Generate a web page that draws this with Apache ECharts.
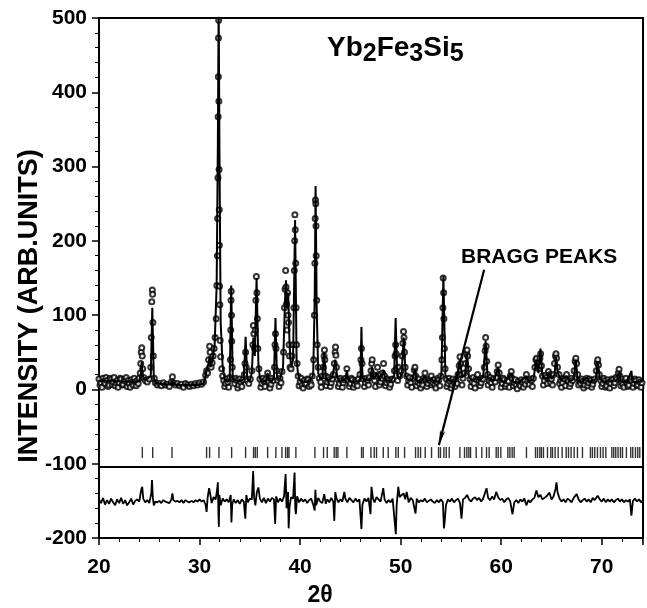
<!DOCTYPE html>
<html>
<head>
<meta charset="utf-8">
<script src="https://cdn.jsdelivr.net/npm/echarts@6/dist/echarts.min.js"></script>
<style>
  html, body { margin: 0; padding: 0; background: #fff; }
  #chart { width: 647px; height: 608px; }
</style>
</head>
<body>
<div id="chart"></div>
<script>
// axis ticks
var xTicks = [20, 30, 40, 50, 60, 70];
var yTicks = [-200, -100, 0, 100, 200, 300, 400, 500];
var xEnd = 74.1;

// calculated profile (2theta, intensity)
var calc = [
  [20,11],[20.4,12],[20.8,11],[21.2,12],[21.6,11],[22,11],[22.4,10],[22.8,11],[23.2,10],[23.6,10],[24.0,11],
  [24.15,20],[24.25,37],[24.35,18],[24.5,14],[24.7,13],[25.15,18],[25.3,110],[25.45,16],[25.6,9],[26,8],
  [26.5,7],[27.2,7],[27.3,12],[27.4,7],[28,6],[29,6],[30,6],[30.4,8],[30.6,18],[30.75,30],[30.9,35],
  [31.0,45],[31.1,30],[31.3,40],[31.5,60],[31.7,140],[31.82,330],[31.9,520],[31.98,320],[32.1,90],
  [32.3,30],[32.5,14],[32.8,10],[33.0,14],[33.15,140],[33.3,14],[33.6,12],[34.0,11],[34.4,14],[34.58,71],
  [34.75,14],[35.0,12],[35.2,22],[35.35,70],[35.5,45],[35.67,150],[35.85,35],[36.0,15],[36.3,10],[36.6,12],
  [36.77,22],[36.9,12],[37.2,11],[37.4,16],[37.55,96],[37.7,16],[38.0,14],[38.3,30],[38.5,120],[38.6,147],
  [38.7,110],[38.82,130],[38.95,60],[39.1,30],[39.3,40],[39.5,228],[39.65,40],[39.8,20],[40.0,12],[40.5,10],
  [41.0,11],[41.3,20],[41.45,120],[41.54,274],[41.65,110],[41.8,22],[42.0,14],[42.2,16],[42.4,50],[42.55,16],
  [42.8,12],[43.2,16],[43.5,40],[43.7,16],[44.0,11],[44.5,14],[44.65,26],[44.8,12],[45.3,10],[45.8,11],
  [46.0,15],[46.1,84],[46.2,15],[46.6,12],[47.0,15],[47.15,30],[47.3,14],[47.7,22],[47.9,12],[48.3,26],
  [48.5,12],[49.0,11],[49.35,18],[49.5,96],[49.65,20],[49.9,14],[50.1,22],[50.3,70],[50.5,18],[50.8,12],
  [51.2,14],[51.4,28],[51.6,12],[52.0,10],[52.4,18],[52.6,10],[53.1,15],[53.3,10],[53.8,11],[54.05,20],
  [54.25,153],[54.45,18],[54.8,12],[55.2,10],[55.6,14],[55.9,40],[56.1,16],[56.4,20],[56.6,48],[56.8,16],
  [57.2,12],[57.6,16],[57.8,12],[58.2,16],[58.45,65],[58.65,16],[59.0,14],[59.3,12],[59.7,30],[59.9,12],
  [60.4,10],[61.0,22],[61.2,10],[61.8,9],[62.5,18],[62.7,10],[63.2,14],[63.5,40],[63.7,22],[63.9,55],
  [64.1,18],[64.5,14],[64.8,22],[65.0,14],[65.3,20],[65.45,44],[65.6,25],[65.9,12],[66.5,18],[66.8,10],
  [67.2,14],[67.42,40],[67.6,12],[68.0,10],[68.5,16],[68.8,10],[69.4,14],[69.6,38],[69.8,14],[70.3,10],
  [71.0,12],[71.5,12],[71.72,25],[71.9,11],[72.5,10],[72.95,25],[73.05,10],[73.6,10],[74.1,11]
];

// observed points (2theta, intensity)
var observed = [
  [20.0,14],[20.1,6],[20.2,9],[20.3,3],[20.4,15],[20.5,11],[20.6,8],[20.7,16],[20.8,12],[20.9,4],[21.0,6],
  [21.1,15],[21.2,13],[21.3,7],[21.4,10],[21.5,16],[21.6,5],[21.7,9],[21.8,12],[21.9,3],[22.0,9],[22.1,15],
  [22.2,14],[22.3,6],[22.4,7],[22.5,13],[22.6,11],[22.7,16],[22.8,4],[22.9,12],[23.0,8],[23.1,3],[23.2,13],
  [23.3,10],[23.4,6],[23.5,15],[23.6,10],[23.7,5],[23.8,12],[23.9,8],[24.0,15],
  [24.1,22],[24.15,35],[24.2,50],[24.25,56],[24.3,45],[24.35,28],[24.45,16],[24.6,12],[24.8,10],[25.0,14],
  [25.15,30],[25.2,70],[25.25,118],[25.3,134],[25.33,128],[25.36,90],[25.4,45],[25.5,15],[25.6,9],
  [25.8,6],[26.0,8],[26.2,5],[26.4,9],[26.6,6],[26.8,7],[27.0,4],[27.2,10],[27.3,17],[27.4,9],[27.6,6],
  [27.8,8],[28.0,5],[28.2,7],[28.4,3],[28.6,8],[28.8,6],[29.0,4],[29.2,7],[29.4,5],[29.6,8],[29.8,6],
  [30.0,9],[30.2,7],[30.4,10],[30.6,19],[30.7,25],[30.8,22],[30.9,40],[31.0,58],[31.05,50],[31.15,30],
  [31.25,36],[31.35,45],[31.45,55],[31.55,70],[31.65,95],[31.72,140],[31.78,180],[31.8,230],[31.83,285],
  [31.85,367],[31.87,421],[31.88,473],[31.9,497],[31.92,388],[31.94,296],[31.96,242],[31.97,194],
  [31.99,139],[32.02,114],[32.05,66],[32.1,44],[32.2,28],[32.3,18],[32.4,12],[32.5,4],[32.6,8],[32.7,14],
  [32.8,10],[32.9,3],[33.0,16],
  [33.07,40],[33.1,80],[33.13,120],[33.15,132],[33.18,100],[33.2,65],[33.25,30],[33.35,14],[33.5,8],
  [33.6,15],[33.7,12],[33.8,2],[33.9,6],[34.0,14],[34.1,10],[34.2,4],[34.3,13],[34.45,20],[34.52,35],
  [34.58,50],[34.64,30],[34.75,12],[34.9,8],
  [35.05,14],[35.2,25],[35.3,60],[35.35,86],[35.4,75],[35.47,55],[35.55,80],[35.6,120],[35.65,152],
  [35.7,130],[35.75,95],[35.8,55],[35.9,28],[36.0,14],[36.1,3],[36.2,8],[36.3,15],[36.4,11],[36.5,4],
  [36.6,14],[36.77,22],[36.9,10],[37.0,2],[37.1,7],[37.2,15],[37.3,12],[37.45,30],[37.5,60],[37.55,75],
  [37.6,55],[37.67,25],[37.8,12],[37.9,4],[38.0,15],[38.1,9],[38.2,24],
  [38.35,50],[38.45,110],[38.5,135],[38.56,160],[38.6,138],[38.65,115],[38.7,80],[38.75,130],[38.8,100],
  [38.85,90],[38.9,60],[38.95,45],[39.0,30],[39.1,28],[39.2,45],[39.3,60],[39.38,110],[39.42,160],
  [39.46,200],[39.48,235],[39.52,215],[39.56,170],[39.6,110],[39.65,60],[39.7,35],[39.8,18],[39.9,5],
  [40.0,10],[40.1,15],[40.2,6],[40.3,2],[40.4,12],[40.5,7],[40.6,8],[40.7,14],[40.8,13],[40.9,4],[41.0,10],
  [41.1,6],[41.2,18],[41.35,40],[41.42,100],[41.47,170],[41.5,230],
  [41.53,255],[41.56,250],[41.58,220],[41.6,180],[41.65,120],[41.7,60],[41.8,30],[41.9,15],[42.05,10],
  [42.1,3],[42.2,18],[42.32,30],[42.38,45],[42.42,53],[42.46,40],[42.55,18],[42.6,5],[42.7,10],[42.8,16],
  [42.9,13],[43.0,4],[43.1,9],[43.2,14],[43.3,20],
  [43.4,35],[43.48,50],[43.52,57],[43.56,46],[43.62,30],[43.75,14],[43.8,4],[43.9,8],[44.0,15],[44.1,12],
  [44.2,3],[44.3,9],[44.4,13],[44.5,15],[44.65,28],[44.8,12],[44.9,4],[45.0,8],[45.1,15],[45.2,13],[45.3,3],
  [45.4,7],[45.5,12],[45.6,10],[45.7,5],[45.8,14],[45.95,20],[46.05,40],[46.1,55],
  [46.16,35],[46.3,14],[46.4,4],[46.5,9],[46.6,15],[46.7,12],[46.8,6],[46.9,16],[47.05,25],[47.12,35],
  [47.17,40],[47.25,20],[47.4,12],[47.5,4],
  [47.55,18],[47.7,30],[47.8,20],[47.9,6],[48.0,10],[48.1,15],[48.2,22],[48.3,35],[48.4,18],[48.5,5],
  [48.6,9],[48.7,14],[48.8,12],[48.9,3],[49.0,7],[49.1,13],
  [49.2,14],[49.38,25],[49.45,45],[49.5,60],[49.55,48],[49.62,28],[49.7,12],[49.76,30],[49.9,18],[50.05,25],
  [50.15,45],[50.22,62],[50.28,78],[50.33,70],[50.38,50],[50.45,30],[50.6,18],[50.7,6],[50.8,12],[50.9,16],
  [51.0,9],[51.1,3],[51.2,15],
  [51.35,26],[51.42,30],[51.5,18],[51.6,5],[51.7,10],[51.8,14],[51.9,7],[52.0,2],[52.1,11],[52.2,6],
  [52.3,15],[52.42,22],[52.55,12],[52.6,4],[52.7,8],[52.8,14],
  [52.9,12],[53.05,18],[53.1,6],[53.2,9],[53.3,13],[53.4,6],[53.5,2],[53.6,10],[53.7,15],[53.8,13],
  [53.9,5],[54.0,18],[54.1,40],[54.15,70],[54.2,110],
  [54.23,150],[54.27,130],[54.3,95],[54.35,55],[54.42,28],[54.55,14],[54.6,4],[54.7,8],[54.8,15],[54.9,11],
  [55.0,2],[55.1,6],[55.2,14],[55.3,10],[55.4,4],
  [55.5,13],[55.6,8],[55.7,20],[55.82,32],[55.9,44],[55.97,35],[56.05,20],[56.1,6],[56.2,15],[56.35,22],
  [56.45,35],[56.55,48],
  [56.6,53],[56.66,45],[56.75,28],[56.9,14],[57.0,4],[57.1,10],[57.2,16],[57.3,8],[57.4,2],[57.5,14],
  [57.65,20],[57.8,12],[57.9,5],[58.0,9],[58.1,15],
  [58.2,14],[58.32,30],[58.4,52],[58.45,70],[58.5,58],[58.56,38],[58.65,20],[58.7,6],[58.8,12],[58.9,16],
  [59.0,9],[59.1,3],[59.2,14],
  [59.4,10],[59.5,16],[59.6,24],[59.7,33],[59.8,22],[59.95,12],[60.0,3],[60.1,8],[60.2,15],[60.3,13],
  [60.4,4],[60.5,7],[60.6,12],[60.7,11],[60.8,3],[60.9,18],
  [61.0,24],[61.1,15],[61.2,5],[61.3,9],[61.4,13],[61.5,6],[61.6,1],[61.7,11],[61.8,8],[61.9,5],[62.0,13],
  [62.1,10],[62.2,3],[62.3,12],[62.4,7],[62.5,20],[62.65,11],
  [62.8,7],[62.9,14],[63.0,12],[63.1,4],[63.2,15],[63.35,30],[63.45,40],[63.52,42],[63.6,35],[63.75,28],
  [63.85,42],[63.92,48],
  [64.0,32],[64.1,18],[64.2,6],[64.3,12],[64.4,19],[64.5,16],[64.6,8],[64.7,24],[64.85,20],[64.9,9],
  [65.0,14],[65.1,6],[65.2,20],[65.3,35],[65.4,45],
  [65.45,48],[65.5,42],[65.6,30],[65.75,20],[65.8,8],[65.9,12],[66.0,3],[66.1,9],[66.2,15],[66.3,14],
  [66.4,5],[66.5,20],[66.6,13],[66.7,11],[66.8,4],[66.9,8],
  [67.0,15],[67.1,12],[67.25,25],[67.35,38],[67.42,42],[67.5,35],[67.6,20],[67.7,6],[67.75,12],[67.9,8],
  [68.0,14],[68.1,11],[68.2,2],[68.3,6],[68.4,12],
  [68.5,15],[68.6,5],[68.7,9],[68.8,14],[68.9,12],[69.0,3],[69.1,7],[69.2,12],[69.3,14],[69.45,25],
  [69.55,36],[69.6,40],[69.67,33],[69.75,20],
  [69.9,12],[70.0,4],[70.1,8],[70.2,15],[70.3,12],[70.4,3],[70.5,5],[70.6,13],[70.7,10],[70.8,2],[70.9,8],
  [71.0,14],[71.1,13],[71.2,5],[71.3,9],[71.4,16],[71.5,14],[71.65,22],
  [71.72,27],[71.8,18],[71.9,5],[71.95,10],[72.0,14],[72.1,7],[72.2,3],[72.3,12],[72.4,15],[72.5,9],
  [72.6,4],[72.7,6],[72.8,12],[72.9,14],[73.0,11],[73.1,3],[73.2,8],[73.3,14],
  [73.4,12],[73.5,5],[73.6,6],[73.7,13],[73.8,10],[73.9,3],[74.0,9]
];

// observed - calculated (plotted shifted down)
var diffShift = -150;
var diff = [
  [20.0,2],[20.2,-3],[20.4,4],[20.6,-5],[20.8,1],[21.0,-4],[21.2,3],[21.4,-2],[21.6,-6],[21.8,2],[22.0,-3],
  [22.2,4],[22.4,-4],[22.6,1],[22.8,-6],[23.0,-2],[23.2,3],[23.4,-5],[23.6,0],[23.8,2],[24.0,-1],[24.2,15],
  [24.3,19],[24.4,3],[24.6,-2],[24.8,1],[25.0,-3],[25.2,10],[25.27,28],[25.35,5],[25.45,-6],[25.6,-1],
  [25.8,-2],[26.0,0],[26.2,-3],[26.4,1],[26.6,-1],[26.8,-2],[27.0,-3],[27.2,2],[27.3,10],[27.4,1],[27.6,-1],
  [27.8,0],[28.0,-2],[28.2,1],[28.4,-3],[28.6,1],[28.8,-1],[29.0,-2],[29.2,0],[29.4,-2],[29.6,1],[29.8,-1],
  [30.0,2],[30.2,-1],[30.4,1],[30.6,-5],[30.7,-15],[30.8,4],[30.95,17],[31.05,10],[31.2,-3],[31.4,5],
  [31.6,2],[31.75,15],[31.82,25],[31.88,-20],[31.92,-35],[31.97,8],[32.1,-6],[32.3,3],[32.5,-1],[32.7,2],
  [32.9,-2],[33.1,8],[33.17,-29],[33.25,-5],[33.4,2],[33.6,-3],[33.8,1],[34.0,-4],[34.2,2],[34.4,-1],
  [34.55,-24],[34.65,8],[34.8,-2],[35.0,3],[35.2,2],[35.33,40],[35.42,5],[35.55,-6],[35.7,12],[35.85,18],
  [36.0,3],[36.2,-2],[36.4,4],[36.6,-3],[36.8,3],[37.0,-1],[37.2,4],[37.4,2],[37.52,-31],[37.62,6],
  [37.8,-2],[38.0,3],[38.2,-1],[38.4,6],[38.56,36],[38.65,-10],[38.8,12],[38.86,-37],[38.95,-8],[39.1,5],
  [39.3,3],[39.45,38],[39.52,-10],[39.58,-18],[39.7,6],[39.9,-2],[40.1,3],[40.3,-1],[40.5,2],[40.7,-3],
  [40.9,1],[41.1,3],[41.3,-5],[41.45,-13],[41.52,15],[41.6,-6],[41.8,4],[42.0,-1],[42.2,-3],[42.4,9],
  [42.55,-4],[42.7,2],[42.9,-2],[43.1,4],[43.3,-1],[43.4,-27],[43.5,12],[43.6,4],[43.8,-2],[44.0,2],
  [44.2,-1],[44.4,12],[44.5,3],[44.7,-2],[44.9,4],[45.1,1],[45.3,-2],[45.5,3],[45.7,-1],[45.9,2],[46.1,-38],
  [46.2,-5],[46.4,3],[46.6,-1],[46.8,4],[47.0,-18],[47.1,19],[47.25,3],[47.4,-2],[47.6,5],[47.8,2],[48.0,-1],
  [48.27,17],[48.4,2],[48.6,-3],[48.8,1],[49.0,-2],[49.2,3],[49.52,-45],[49.6,-6],[49.76,19],[49.9,5],
  [50.1,8],[50.3,10],[50.45,2],[50.6,12],[50.8,-2],[51.0,4],[51.2,1],[51.48,-17],[51.6,3],[51.8,-2],[52.0,1],
  [52.2,-1],[52.4,3],[52.6,-2],[52.8,0],[53.0,2],[53.2,-1],[53.4,-3],[53.6,1],[53.8,-2],[54.0,2],[54.2,-2],
  [54.3,-37],[54.38,-28],[54.5,-6],[54.7,2],[54.9,-1],[55.1,3],[55.3,-2],[55.5,1],[55.7,3],[55.9,-3],
  [56.05,-24],[56.2,2],[56.4,4],[56.6,8],[56.8,2],[57.0,-1],[57.2,3],[57.4,5],[57.6,1],[57.8,4],[58.0,-1],
  [58.2,3],[58.54,17],[58.7,4],[58.9,1],[59.1,6],[59.3,2],[59.5,12],[59.7,5],[59.9,1],[60.1,3],[60.3,-2],
  [60.5,2],[60.7,4],[60.9,-1],[61.12,-18],[61.3,-2],[61.5,1],[61.7,-3],[61.9,2],[62.1,-1],[62.3,3],
  [62.5,-6],[62.7,1],[62.9,-2],[63.1,2],[63.3,4],[63.5,14],[63.7,5],[63.9,8],[64.1,2],[64.3,4],[64.5,6],
  [64.8,11],[65.0,2],[65.2,6],[65.4,16],[65.5,25],[65.6,12],[65.8,3],[66.0,-1],[66.2,2],[66.4,-2],[66.6,3],
  [66.8,1],[67.0,-2],[67.2,4],[67.5,9],[67.7,2],[67.9,-2],[68.1,1],[68.3,3],[68.5,-1],[68.7,2],[68.9,-2],
  [69.1,4],[69.3,1],[69.6,7],[69.8,2],[70.0,-1],[70.2,3],[70.4,-2],[70.6,2],[70.8,-1],[71.0,2],[71.2,-2],
  [71.4,1],[71.6,3],[71.8,-1],[72.0,2],[72.2,-2],[72.4,1],[72.6,-1],[72.8,2],[72.95,-20],[73.1,0],[73.3,3],
  [73.5,-1],[73.7,2],[73.9,-2],[74.1,1]
];

// Bragg reflection positions (2theta)
var bragg = [
  24.31, 25.34, 27.26, 30.70, 31.00, 31.93, 33.19, 34.58, 35.37, 35.54, 35.74, 36.77, 37.59, 38.19,
  38.56, 38.75, 38.89, 39.58, 41.47, 42.33, 42.70, 43.39, 43.59, 43.76, 44.65, 46.11, 46.28, 47.04,
  47.37, 47.60, 48.27, 48.76, 49.52, 49.76, 50.39, 51.48, 51.74, 51.98, 52.44, 53.07, 53.77, 53.96,
  54.30, 54.53, 54.83, 55.89, 56.35, 56.58, 56.78, 56.95, 57.51, 58.07, 58.54, 58.80, 59.50, 59.70,
  59.96, 60.66, 60.86, 61.09, 61.29, 62.51, 63.41, 63.61, 63.84, 64.00, 64.20, 64.60, 64.93, 65.10,
  65.36, 65.66, 66.06, 66.46, 66.69, 66.95, 67.25, 67.58, 68.08, 68.87, 69.07, 69.30, 69.57, 69.87,
  70.13, 70.40, 71.00, 71.19, 71.39, 71.62, 71.86, 72.06, 72.45, 72.88, 73.08, 73.35, 73.58, 73.78
];
var braggRow = -85;
var separatorY = -104;

var font = 'Liberation Sans, Arial, sans-serif';

var chartDom = document.getElementById('chart');
var myChart = echarts.init(chartDom);

var option = {
  animation: false,
  backgroundColor: '#fff',
  grid: {
    left: 99, right: 4, top: 18, bottom: 70,
    show: true, borderColor: '#000', borderWidth: 2
  },
  xAxis: {
    type: 'value',
    min: xTicks[0],
    max: xEnd,
    interval: xTicks[1] - xTicks[0],
    splitLine: { show: false },
    axisLine: { onZero: false, lineStyle: { color: '#000', width: 2 } },
    axisTick: { inside: false, length: 7, lineStyle: { color: '#000', width: 1.5 } },
    minorTick: { show: true, splitNumber: 5, length: 4, lineStyle: { color: '#000', width: 1 } },
    axisLabel: {
      color: '#000', fontFamily: font, fontWeight: 'bold', fontSize: 21, margin: 19,
      showMaxLabel: false
    }
  },
  yAxis: {
    type: 'value',
    min: yTicks[0],
    max: yTicks[yTicks.length - 1],
    interval: yTicks[1] - yTicks[0],
    splitLine: { show: false },
    axisLine: { onZero: false, lineStyle: { color: '#000', width: 2 } },
    axisTick: { inside: false, length: 7, lineStyle: { color: '#000', width: 1.5 } },
    minorTick: { show: true, splitNumber: 5, length: 4, lineStyle: { color: '#000', width: 1 } },
    axisLabel: { color: '#000', fontFamily: font, fontWeight: 'bold', fontSize: 21, margin: 12 }
  },
  graphic: [
    {
      type: 'text', left: 327, top: 34,
      style: {
        text: '{n|Yb}{s|2}{n|Fe}{s|3}{n|Si}{s|5}',
        fill: '#000',
        rich: {
          n: { fontFamily: font, fontWeight: 'bold', fontSize: 28, verticalAlign: 'bottom', padding: [0, 0, 5, 0] },
          s: { fontFamily: font, fontWeight: 'bold', fontSize: 25, verticalAlign: 'bottom' }
        }
      }
    },
    {
      type: 'text', left: 461, top: 247,
      style: { text: 'BRAGG PEAKS', fill: '#000', font: 'bold 21px ' + font }
    },
    {
      type: 'text', x: 30, y: 306, rotation: Math.PI / 2,
      style: {
        text: 'INTENSITY (ARB.UNITS)', fill: '#000', font: 'bold 27px ' + font,
        align: 'center', verticalAlign: 'middle'
      }
    },
    {
      type: 'text', x: 320, y: 596,
      style: {
        text: '2θ', fill: '#000', font: 'bold 23px ' + font,
        align: 'center', verticalAlign: 'middle'
      }
    }
  ],
  series: [
    {
      name: 'calc',
      type: 'line',
      data: calc,
      showSymbol: false,
      clip: true,
      lineStyle: { color: '#000', width: 2 },
      markLine: {
        silent: true,
        symbol: ['none', 'arrow'],
        symbolSize: [4, 15],
        label: { show: false },
        lineStyle: { color: '#000', width: 2.2, type: 'solid' },
        data: [[{ coord: [58.3, 161] }, { coord: [53.8, -75] }]]
      }
    },
    {
      name: 'obs',
      type: 'scatter',
      data: observed,
      symbol: 'emptyCircle',
      symbolSize: 5,
      itemStyle: { color: '#000', borderColor: '#000', borderWidth: 1.2 }
    },
    {
      name: 'diff',
      type: 'line',
      data: diff.map(function (d) { return [d[0], d[1] + diffShift]; }),
      showSymbol: false,
      lineStyle: { color: '#000', width: 1.8 }
    },
    {
      name: 'bragg',
      type: 'scatter',
      data: bragg.map(function (x) { return [x, braggRow]; }),
      symbol: 'rect',
      symbolSize: [1.4, 11],
      itemStyle: { color: '#000' },
      markLine: {
        silent: true,
        symbol: 'none',
        label: { show: false },
        lineStyle: { color: '#000', width: 2, type: 'solid' },
        data: [{ yAxis: separatorY }]
      }
    }
  ]
};

option && myChart.setOption(option);
</script>
</body>
</html>
